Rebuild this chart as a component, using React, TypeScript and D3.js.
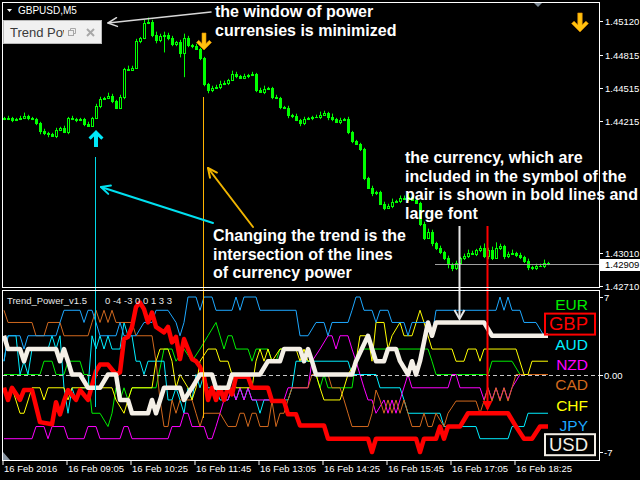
import React from "react";
import * as d3 from "d3";

const FONT = "'Liberation Sans', Arial, sans-serif";

// GBPUSD, M5 — 16 Feb 2016, first bar 07:45
const firstOpen = 1.44238;
const closes = [
  1.44229, 1.44238, 1.4422, 1.44229, 1.44238, 1.44257, 1.44238, 1.44229, 1.44193, 1.4412,
  1.44102, 1.44093, 1.44075, 1.44129, 1.44148, 1.44111, 1.44238, 1.44229, 1.4422, 1.44229,
  1.44184, 1.44166, 1.44238, 1.44347, 1.44411, 1.4442, 1.44438, 1.44393, 1.44329, 1.44429,
  1.44684, 1.44675, 1.44693, 1.44938, 1.44965, 1.45102, 1.45111, 1.44993, 1.44947, 1.44984,
  1.44993, 1.44965, 1.44911, 1.44929, 1.44829, 1.44965, 1.44902, 1.44893, 1.44866, 1.44784,
  1.44547, 1.44493, 1.44511, 1.4452, 1.44547, 1.44557, 1.44584, 1.44638, 1.4462, 1.44602,
  1.4462, 1.44629, 1.44638, 1.44493, 1.44475, 1.44502, 1.44511, 1.44429, 1.4442, 1.44338,
  1.44329, 1.44266, 1.44257, 1.4422, 1.44193, 1.44229, 1.44238, 1.44248, 1.44248, 1.44266,
  1.44284, 1.44248, 1.44229, 1.44202, 1.4422, 1.44229, 1.44111, 1.44029, 1.44002, 1.43957,
  1.43693, 1.43602, 1.43557, 1.43566, 1.43457, 1.4342, 1.43438, 1.43475, 1.43484, 1.43513,
  1.43502, 1.4352, 1.43493, 1.43466, 1.43275, 1.43148, 1.43202, 1.43102, 1.43057, 1.4302,
  1.42966, 1.42911, 1.42875, 1.4292, 1.42966, 1.42984, 1.43011, 1.43002, 1.43038, 1.43057,
  1.42984, 1.43038, 1.42966, 1.43057, 1.43075, 1.42984, 1.43002, 1.43011, 1.42993, 1.42975,
  1.42939, 1.42884, 1.42875, 1.42893, 1.42893, 1.4292, 1.42909,
];
// shadow lengths beyond the candle body, in pips
const wickUpPips = [
  1, 2, 1, 1, 2, 3, 1, 1, 1, 1,
  2, 1, 1, 2, 1, 2, 1, 2, 1, 1,
  1, 2, 1, 2, 2, 1, 3, 2, 1, 2,
  1, 3, 2, 2, 1, 3, 4, 2, 3, 2,
  3, 2, 2, 1, 2, 4, 2, 1, 2, 1,
  1, 1, 2, 2, 3, 2, 1, 3, 2, 1,
  2, 1, 2, 1, 2, 3, 1, 1, 2, 1,
  1, 2, 1, 2, 1, 2, 1, 1, 2, 3,
  2, 1, 3, 1, 2, 1, 2, 1, 1, 1,
  1, 1, 2, 1, 1, 2, 2, 3, 1, 2,
  2, 3, 1, 2, 1, 2, 3, 2, 1, 2,
  1, 2, 1, 2, 1, 2, 3, 2, 1, 2,
  4, 2, 3, 5, 2, 1, 2, 3, 1, 2,
  1, 2, 1, 2, 2, 3, 1,
];
const wickDownPips = [
  1, 1, 2, 1, 1, 1, 2, 1, 2, 3,
  2, 3, 1, 2, 1, 1, 2, 1, 2, 1,
  2, 1, 1, 1, 2, 1, 1, 2, 1, 1,
  2, 1, 1, 1, 2, 1, 1, 2, 3, 2,
  15, 2, 2, 2, 4, 22, 2, 2, 1, 2,
  2, 3, 2, 1, 2, 1, 2, 1, 2, 1,
  1, 2, 1, 2, 1, 2, 1, 2, 1, 2,
  1, 3, 2, 1, 3, 2, 1, 2, 1, 2,
  1, 3, 2, 1, 2, 1, 2, 2, 1, 2,
  2, 1, 3, 2, 1, 2, 1, 2, 1, 2,
  1, 2, 1, 1, 2, 2, 1, 3, 2, 2,
  2, 4, 3, 2, 1, 2, 2, 1, 2, 2,
  2, 3, 2, 1, 2, 3, 2, 1, 2, 2,
  2, 3, 2, 2, 1, 2, 1,
];

const priceTicks = [1.4512, 1.44815, 1.44515, 1.44215, 1.4301, 1.4271];
const timeLabels = [
  "16 Feb 2016", "16 Feb 09:05", "16 Feb 10:25", "16 Feb 11:45", "16 Feb 13:05",
  "16 Feb 14:25", "16 Feb 15:45", "16 Feb 17:05", "16 Feb 18:25",
];
const barsPerTimeLabel = 16;

// Trend_Power_v1.5 — currency strength, [bar, power]
const eurPower: [number, number][] = [
  [0, 0], [9, 0], [10, 1.2], [12, 1.2], [13, 0], [15, 0], [16, 1.2], [19, 1.2], [20, 0], [21, 0],
  [22, -3.5], [24, -3.5], [26, -4.7], [27, -3.5], [28, -1.2], [29, -2.3], [30, -1.2], [31, -2.3], [32, -1.2], [38, -1.2],
  [40, 2.3], [42, 2.3], [43, 1.2], [45, 2.3], [47, 1.2], [49, 2.3], [51, 3.5], [53, 4.7], [54, 3.5], [55, 2.3],
  [56, 3.5], [57, 3.5], [58, 2.3], [61, 2.3], [62, 1.2], [63, 2.3], [66, 2.3], [67, 1.2], [68, 1.2], [69, 2.3],
  [74, 2.3], [76, 1.2], [77, 1.2], [78, 0], [79, -1.2], [80, 0], [81, -1.2], [87, -1.2], [88, 1.2], [89, 2.3],
  [106, 2.3], [107, 1.2], [108, 0], [121, 0], [122, 1.2], [127, 1.2], [129, 0], [136, 0],
];
const gbpPower: [number, number][] = [
  [0, -1.2], [1, -2.3], [2, -1.2], [4, -2.3], [5, -1.4], [7, -1.4], [9, -4.3], [12, -4.5], [13, -2.5], [14, -3.6],
  [15, -2.4], [16, -1.4], [18, -2.3], [19, -1.4], [21, -2.3], [23, 0.3], [24, 0.9], [26, 0.9], [28, 0], [29, 0.2],
  [30, 3.2], [31, 3.4], [32, 4.3], [33, 6.1], [34, 6.5], [35, 5.9], [36, 4.7], [37, 5.6], [38, 4.3], [40, 3.8],
  [41, 4.3], [42, 2.9], [43, 3.4], [44, 1.4], [45, 3.2], [46, 2.3], [47, 1.4], [48, 1.2], [49, 0.7], [50, -0.2],
  [51, -2.3], [52, -1.2], [53, -2.3], [54, -1.2], [55, -2.3], [56, -1.2], [57, -1.8], [58, -0.2], [61, -0.2], [62, -1.2],
  [66, -1.2], [67, -2.4], [70, -2.4], [71, -3.6], [73, -3.6], [74, -4.6], [80, -4.6], [81, -5.8], [91, -5.8], [92, -7],
  [93, -5.8], [103, -5.8], [104, -7], [105, -5.8], [108, -5.8], [109, -4.7], [110, -5.8], [111, -4.7], [114, -4.7], [116, -3.5],
  [126, -3.5], [128, -4.7], [130, -5.8], [132, -5.8], [134, -4.7], [136, -4.7],
];
const audPower: [number, number][] = [
  [0, 1.2], [1, 3.5], [3, 3.5], [4, 0], [5, 1.2], [6, 0], [7, 2.3], [11, 2.3], [12, 3.5], [13, 2.3],
  [14, 3.5], [15, -1.2], [16, -3.5], [17, -1.2], [18, -2.3], [19, -1.2], [21, -1.2], [22, 3.5], [23, 2.3], [24, 3.5],
  [25, 2.3], [26, 3.5], [27, 2.3], [29, 2.3], [30, 4.7], [31, 3.5], [32, 3.5], [33, 1.2], [34, 1.2], [35, 0],
  [36, 1.2], [40, 1.2], [41, -2.3], [42, -2.3], [43, -1.2], [44, -2.3], [45, -3.5], [46, -1.2], [47, -2.3], [48, 0],
  [49, -1.2], [50, 0], [51, -1.2], [53, -1.2], [54, -2.3], [56, -2.3], [57, -1.2], [58, -2.3], [59, -1.2], [60, -2.3],
  [61, -1.2], [62, -2.3], [63, -2.3], [64, -3.5], [65, -2.3], [71, -2.3], [72, -1.2], [73, 1.2], [86, 1.2], [87, 0],
  [93, 0], [94, -1.2], [99, -1.2], [100, -2.3], [101, -3.5], [109, -3.5], [110, -4.7], [118, -4.7], [119, -5.8], [126, -5.8],
  [127, -4.7], [130, -4.7], [131, -3.5], [136, -3.5],
];
const nzdPower: [number, number][] = [
  [0, -5.8], [7, -5.8], [8, -4.7], [10, -4.7], [11, -5.8], [12, -4.7], [15, -4.7], [16, -5.8], [20, -5.8], [21, -4.7],
  [23, -4.7], [24, -5.8], [29, -5.8], [30, -4.7], [31, -4.7], [32, -5.8], [41, -5.8], [42, -4.7], [44, -4.7], [45, -3.5],
  [46, -3.5], [47, -4.7], [50, -4.7], [51, -5.8], [52, -5.8], [53, -4.7], [54, -3.5], [55, -2.3], [56, -2.3], [57, -1.2],
  [58, -2.3], [59, -1.2], [60, -2.3], [61, -1.2], [62, -2.3], [70, -2.3], [71, -1.2], [76, -1.2], [77, 1.2], [79, 2.3],
  [81, 3.5], [82, 3.5], [83, 2.3], [84, 3.5], [86, 3.5], [87, 2.3], [88, 1.2], [89, 0], [90, -1.2], [91, -2.3],
  [92, -2.3], [93, -3.5], [95, -2.3], [96, -3.5], [97, -2.3], [98, -3.5], [99, -2.3], [101, 0], [102, -1.2], [111, -1.2],
  [112, 0], [113, 0], [114, -1.2], [119, -1.2], [120, -2.3], [121, -1.2], [122, -2.3], [123, -1.2], [124, -2.3], [125, -1.2],
  [126, -2.3], [127, -1.2], [129, 0], [136, 0],
];
const cadPower: [number, number][] = [
  [0, 5.8], [1, 4.7], [7, 4.7], [8, 3.5], [10, 3.5], [11, 4.7], [14, 4.7], [15, 3.5], [21, 3.5], [22, 4.7],
  [23, 5.8], [24, 4.7], [25, 5.8], [26, 4.7], [27, 5.8], [28, 4.7], [32, 4.7], [33, 3.5], [37, 3.5], [38, 1.2],
  [39, -2.3], [40, -4.7], [41, -4.7], [42, -2.3], [43, -3.5], [44, -2.3], [47, -2.3], [48, -3.5], [49, -4.7], [50, -3.5],
  [54, -3.5], [56, -4.7], [58, -4.7], [59, -3.5], [60, -3.5], [61, -4.7], [62, -3.5], [63, -3.5], [64, -4.7], [66, -4.7],
  [67, -2.4], [68, -4.7], [69, -3.5], [70, -3.5], [71, -2.3], [72, -1.2], [76, -1.2], [77, 0], [81, 0], [82, -1.2],
  [84, -1.2], [85, -2.3], [86, -3.5], [87, -4.7], [91, -4.7], [92, -3.5], [93, -1.4], [94, -2.3], [95, -3.5], [96, -2.3],
  [97, -3.5], [98, -2.3], [99, -3.5], [100, -2.3], [101, -3.5], [102, -4.7], [104, -4.7], [105, -3.5], [106, -4.7], [107, -4.7],
  [108, -3.5], [110, -4.7], [111, -3.5], [113, -2.4], [118, -2.4], [119, -3.5], [120, -2.4], [121, -1.2], [122, -2.4], [123, -1.2],
  [124, -2.4], [125, -1.2], [126, -2.4], [127, -1.2], [128, 0], [136, 0],
];
const chfPower: [number, number][] = [
  [0, -1.2], [1, -2.3], [2, -1.2], [4, -3.5], [5, -3.5], [7, -1.2], [9, -1.2], [10, -2.3], [11, -1.2], [15, -1.2],
  [16, -2.3], [17, -1.2], [27, -1.2], [28, -2.3], [30, -3.5], [31, -2.3], [32, -1.2], [37, -1.2], [38, 1.2], [39, 2.3],
  [41, 2.3], [42, 1.2], [43, -1.2], [44, 0], [46, -1.2], [47, -2.3], [48, -1.2], [49, 1.2], [51, 2.3], [53, 2.3],
  [54, 1.2], [56, 1.2], [57, 0], [58, -1.2], [62, -1.2], [63, 1.2], [64, 2.3], [65, 1.2], [66, 2.3], [67, 1.2],
  [69, 2.3], [73, 2.3], [74, 1.2], [75, 2.3], [76, 1.2], [77, 1.2], [79, -1.2], [80, -2.3], [84, -2.3], [85, -1.2],
  [86, 0], [88, 1.2], [89, 3.5], [91, 3.5], [92, 1.2], [93, 4.7], [95, 4.7], [96, 2.3], [97, 3.5], [99, 4.7],
  [100, 3.5], [102, 3.5], [104, 5.8], [105, 4.7], [106, 3.5], [107, 2.3], [112, 2.3], [113, 1.2], [115, 1.2], [116, 2.3],
  [118, 2.3], [119, 1.2], [120, 2.3], [128, 2.3], [130, 0], [131, 0], [132, 1.2], [136, 1.2],
];
const jpyPower: [number, number][] = [
  [0, 1.2], [1, 3.5], [4, 3.5], [5, 2.3], [6, 3.5], [13, 3.5], [14, 4.7], [15, 5.8], [19, 5.8], [20, 4.7],
  [21, 5.8], [22, 5.8], [23, 4.7], [24, 3.5], [28, 3.5], [29, 4.7], [30, 3.5], [33, 3.5], [35, 4.7], [37, 4.7],
  [38, 5.8], [41, 5.8], [43, 4.7], [44, 3.5], [45, 4.7], [46, 7], [48, 7], [49, 5.8], [50, 7], [52, 7],
  [53, 5.8], [57, 5.8], [58, 7], [59, 5.8], [60, 7], [63, 7], [64, 5.8], [73, 5.8], [74, 3.5], [76, 3.5],
  [78, 4.7], [80, 4.7], [81, 3.5], [82, 4.7], [86, 4.7], [87, 5.8], [88, 7], [89, 7], [90, 5.8], [92, 5.8],
  [93, 4.7], [94, 5.8], [96, 5.8], [97, 4.7], [100, 4.7], [101, 3.5], [102, 4.7], [106, 4.7], [107, 3.5], [108, 5.8],
  [123, 5.8], [124, 7], [125, 5.8], [126, 7], [127, 5.8], [129, 5.8], [130, 4.7], [133, 4.7], [135, 3.5], [136, 3.5],
];
const usdPower: [number, number][] = [
  [0, 3.5], [1, 2.3], [4, 2.3], [5, 1.2], [6, 2.3], [13, 2.3], [14, 1.2], [15, 2.3], [16, 1.2], [17, 0],
  [19, 0], [21, -1.2], [24, -1.2], [26, 0], [28, 0], [29, -2.3], [31, -2.3], [32, -3.5], [36, -3.5], [37, -2.3],
  [38, -3.5], [40, -1.2], [44, -1.2], [45, -2.3], [47, -1.2], [49, 0], [52, 0], [53, -1.2], [56, -1.2], [57, 0],
  [64, 0], [66, 1.2], [69, 1.2], [70, 2.3], [74, 2.3], [75, 1.2], [76, 2.3], [77, 1.2], [78, 0], [87, 0],
  [88, 1.2], [91, 3.5], [93, 1.2], [95, 1.2], [96, 2.3], [98, 2.3], [99, 1.2], [101, 0], [102, 1.2], [103, 0],
  [104, 1.2], [106, 4.7], [107, 3.5], [108, 4.7], [120, 4.7], [122, 3.5], [136, 3.5],
];

const currencyNames = ["EUR", "GBP", "AUD", "NZD", "CAD", "CHF", "JPY", "USD"];
const currencyColors = ["#00ee00", "#ff0000", "#00eeff", "#ff00ff", "#d2691e", "#ffff00", "#1ea8ff", "#f4efe6"];
const currencyPowers = [eurPower, gbpPower, audPower, nzdPower, cadPower, chfPower, jpyPower, usdPower];
const symbolCurrencies = ["GBP", "USD"];
const currentPowerText = "0 -4 -3 0 0 1 3 3";
const powerTicks = [7, 0, -7];

// signal bars
const buySignalBar = 23;
const sellSignalBar = 50;
const forecastSellBar = 144;
const markerBarWhite = 114;
const markerBarRed = 121;

const PANE = { left: 3, right: 599, top1: 2, bottom1: 287, top2: 290, bottom2: 460 };

function arrowPoints(cx: number, tip: number, dir: 1 | -1, s = 1) {
  // dir 1 = pointing up (tip at top), -1 = pointing down
  const pts: [number, number][] = [
    [0, 0], [7.5, 7.5], [5.3, 9.7], [2, 6.4], [2, 17], [-2, 17], [-2, 6.4], [-5.3, 9.7], [-7.5, 7.5],
  ];
  return pts.map(([dx, dy]) => `${cx + dx * s},${tip + dir * dy * s}`).join(" ");
}

function Pointer({ x1, y1, x2, y2, color, width }: { x1: number; y1: number; x2: number; y2: number; color: string; width: number }) {
  const a = Math.atan2(y1 - y2, x1 - x2);
  const L = 10;
  const h1 = [x2 + L * Math.cos(a + 0.45), y2 + L * Math.sin(a + 0.45)];
  const h2 = [x2 + L * Math.cos(a - 0.45), y2 + L * Math.sin(a - 0.45)];
  return (
    <g stroke={color} strokeWidth={width} fill="none" strokeLinecap="round" strokeLinejoin="round">
      <line x1={x1} y1={y1} x2={x2} y2={y2} />
      <polyline points={`${h1[0]},${h1[1]} ${x2},${y2} ${h2[0]},${h2[1]}`} />
    </g>
  );
}

export default function App() {
  const x = d3.scaleLinear().domain([0, 149]).range([4, 600]);
  const yP = d3.scaleLinear().domain([1.4271, 1.4512]).range([286, 21]);
  const yW = d3.scaleLinear().domain([-7, 7]).range([452, 297]);
  const pip = 0.0001;

  const candles = closes.map((c, i) => {
    const o = i === 0 ? firstOpen : closes[i - 1];
    const hi = Math.max(o, c) + wickUpPips[i] * pip;
    const lo = Math.min(o, c) - wickDownPips[i] * pip;
    return { i, o, c, hi, lo };
  });

  const line = d3
    .line<[number, number]>()
    .x((d) => x(d[0]))
    .y((d) => yW(d[1]));

  const lastPrice = closes[closes.length - 1];
  const textStyle = { fontFamily: FONT, fontWeight: 700, fontSize: 16, fill: "#ffffff" } as const;

  const bx = (b: number) => Math.round(x(b)) - 0.5;

  return (
    <svg
      width={640}
      height={480}
      style={{ position: "absolute", left: 0, top: 0, display: "block", background: "#000" }}
      fontFamily={FONT}
    >
      <defs>
        <clipPath id="pane1">
          <rect x={PANE.left} y={PANE.top1} width={PANE.right - PANE.left} height={PANE.bottom1 - PANE.top1} />
        </clipPath>
        <clipPath id="pane2">
          <rect x={PANE.left} y={PANE.top2} width={PANE.right - PANE.left} height={PANE.bottom2 - PANE.top2} />
        </clipPath>
        <clipPath id="winTitle">
          <rect x={8} y={20} width={56} height={24} />
        </clipPath>
      </defs>
      <rect x={0} y={0} width={640} height={480} fill="#000" />

      {/* candles */}
      <g clipPath="url(#pane1)">
        {candles.map((d) => {
          const cx = Math.round(x(d.i));
          const yo = yP(d.o);
          const yc = yP(d.c);
          const top = Math.round(Math.min(yo, yc));
          const h = Math.max(0, Math.round(Math.abs(yo - yc)));
          const bull = d.c >= d.o;
          return (
            <g key={d.i}>
              <line x1={cx + 0.5} x2={cx + 0.5} y1={yP(d.hi)} y2={yP(d.lo)} stroke="#00ff00" strokeWidth={1} />
              <rect
                x={cx - 0.5}
                y={top + 0.5}
                width={2}
                height={Math.max(h, 0.01)}
                fill={bull ? "#000" : "#00ff00"}
                stroke="#00ff00"
                strokeWidth={1}
              />
            </g>
          );
        })}
        {/* bid line */}
        <line x1={435} x2={PANE.right} y1={Math.round(yP(lastPrice)) + 0.5} y2={Math.round(yP(lastPrice)) + 0.5} stroke="#a0a0a0" />
      </g>

      {/* signal arrows on the price chart */}
      <polygon points={arrowPoints(x(buySignalBar), 130, 1)} fill="#00e8f8" />
      <polygon points={arrowPoints(x(sellSignalBar), 50, -1)} fill="#ffc10e" stroke="#e08a00" strokeWidth={0.6} />
      <polygon points={arrowPoints(x(forecastSellBar), 32, -1, 1.12)} fill="#ffc10e" stroke="#e08a00" strokeWidth={0.6} />
      <polygon points="534,3 542,3 538,7" fill="#7d8a96" />

      {/* lower pane: currency power */}
      <g clipPath="url(#pane2)">
        {currencyPowers.map((data, k) =>
          symbolCurrencies.includes(currencyNames[k]) ? null : (
            <path key={k} d={line(data) || ""} fill="none" stroke={currencyColors[k]} strokeWidth={1} />
          )
        )}
        <line x1={PANE.left} x2={PANE.right} y1={Math.round(yW(0)) + 0.5} y2={Math.round(yW(0)) + 0.5} stroke="#c8c8c8" strokeDasharray="4 3" />
        {currencyPowers.map((data, k) =>
          symbolCurrencies.includes(currencyNames[k]) ? (
            <path key={k} d={line(data) || ""} fill="none" stroke={currencyColors[k]} strokeWidth={4.5} strokeLinejoin="round" />
          ) : null
        )}
      </g>

      {/* signal verticals */}
      <line x1={bx(buySignalBar)} x2={bx(buySignalBar)} y1={157} y2={407} stroke="#00d8e8" />
      <line x1={bx(sellSignalBar)} x2={bx(sellSignalBar)} y1={97} y2={418} stroke="#ffb400" />
      <line x1={bx(markerBarWhite)} x2={bx(markerBarWhite)} y1={226} y2={318} stroke="#e6e6e6" strokeWidth={2} />
      <polyline
        points={`${bx(markerBarWhite) - 5},${310} ${bx(markerBarWhite)},${319} ${bx(markerBarWhite) + 5},${310}`}
        fill="none"
        stroke="#e6e6e6"
        strokeWidth={2}
      />
      <line x1={bx(markerBarRed)} x2={bx(markerBarRed)} y1={226} y2={409} stroke="#ff0000" strokeWidth={2} />
      <polygon
        points={`${bx(markerBarRed) - 5},${401} ${bx(markerBarRed)},${411} ${bx(markerBarRed) + 5},${401}`}
        fill="#ff0000"
      />

      {/* pane frames */}
      <rect x={2.5} y={2.5} width={597} height={285} fill="none" stroke="#ffffff" />
      <rect x={2.5} y={290.5} width={597} height={170} fill="none" stroke="#ffffff" />
      <polygon points="3,452 3,460 10,460" fill="#8a96a2" />

      {/* price axis */}
      {priceTicks.map((p) => {
        const y = Math.round(yP(p)) + 0.5;
        return (
          <g key={p}>
            <line x1={600} x2={603} y1={y} y2={y} stroke="#fff" />
            <text x={605} y={y + 3.5} fill="#fff" fontSize={9.5}>
              {p.toFixed(5)}
            </text>
          </g>
        );
      })}
      <rect x={600} y={Math.round(yP(lastPrice)) - 5} width={40} height={12} fill="#ffffff" />
      <text x={605} y={Math.round(yP(lastPrice)) + 4} fill="#000" fontSize={9.5}>
        {lastPrice.toFixed(5)}
      </text>

      {/* power axis */}
      {powerTicks.map((v) => {
        const y = Math.round(yW(v)) + 0.5;
        return (
          <g key={v}>
            <line x1={600} x2={603} y1={y} y2={y} stroke="#fff" />
            <text x={604} y={y + 3.5} fill="#fff" fontSize={9.5}>
              {v === 0 ? "0.00" : String(v)}
            </text>
          </g>
        );
      })}

      {/* time axis */}
      {timeLabels.map((lab, k) => {
        const tx = bx(k * barsPerTimeLabel) - 0.5;
        return (
          <g key={lab}>
            <line x1={tx} x2={tx} y1={461} y2={465} stroke="#fff" />
            <text x={tx + 1} y={472} fill="#fff" fontSize={9.5}>
              {lab}
            </text>
          </g>
        );
      })}

      {/* chart caption */}
      <polygon points="7,9 12,9 9.5,12" fill="#fff" />
      <text x={18} y={14} fill="#fff" fontSize={10}>
        GBPUSD,M5
      </text>

      {/* minimized indicator window */}
      <rect x={3.5} y={20.5} width={98} height={23} fill="#f0f0f0" stroke="#b8b8b8" />
      <text x={10} y={37} fill="#3a3a3a" fontSize={13} clipPath="url(#winTitle)">
        Trend Power_v1.5
      </text>
      <rect x={68.5} y={30.5} width={5} height={5} fill="none" stroke="#a8a8a8" />
      <polyline points="70.5,30.5 70.5,28.5 75.5,28.5 75.5,33.5 73.5,33.5" fill="none" stroke="#a8a8a8" />
      <g stroke="#a8a8a8" strokeWidth={2}>
        <line x1={87} y1={29} x2={94} y2={36} />
        <line x1={94} y1={29} x2={87} y2={36} />
      </g>

      {/* indicator caption */}
      <text x={7} y={304} fill="#e8e8e8" fontSize={9.5}>
        Trend_Power_v1.5
      </text>
      <text x={105} y={304} fill="#e8e8e8" fontSize={9.5}>
        {currentPowerText}
      </text>

      {/* currency legend */}
      {currencyNames.map((name, k) => {
        const bold = symbolCurrencies.includes(name);
        const base = 310 + k * 20.1;
        return (
          <g key={name}>
            {bold && (
              <rect x={545} y={base - 16.5} width={50} height={21} fill="none" stroke={currencyColors[k]} strokeWidth={2} />
            )}
            <text x={588} y={base} textAnchor="end" fill={currencyColors[k]} fontSize={bold ? 18.5 : 15.5}>
              {name}
            </text>
          </g>
        );
      })}

      {/* explanatory notes */}
      <Pointer x1={211} y1={12} x2={108} y2={23} color="#d8d8d8" width={1.5} />
      <Pointer x1={213} y1={223} x2={101} y2={187} color="#00e0f0" width={2} />
      <Pointer x1={253} y1={227} x2={208} y2={168} color="#f0b400" width={2} />

      <g style={textStyle}>
        <text x={215} y={17}>the window of power</text>
        <text x={215} y={36}>currensies is minimized</text>
        <text x={213} y={241}>Changing the trend is the</text>
        <text x={213} y={259.5}>intersection of the lines</text>
        <text x={213} y={278}>of currency power</text>
        <text x={405} y={163}>the currency, which are</text>
        <text x={405} y={181.5}>included in the symbol of the</text>
        <text x={405} y={200}>pair is shown in bold lines and</text>
        <text x={405} y={218.5}>large font</text>
      </g>
    </svg>
  );
}
